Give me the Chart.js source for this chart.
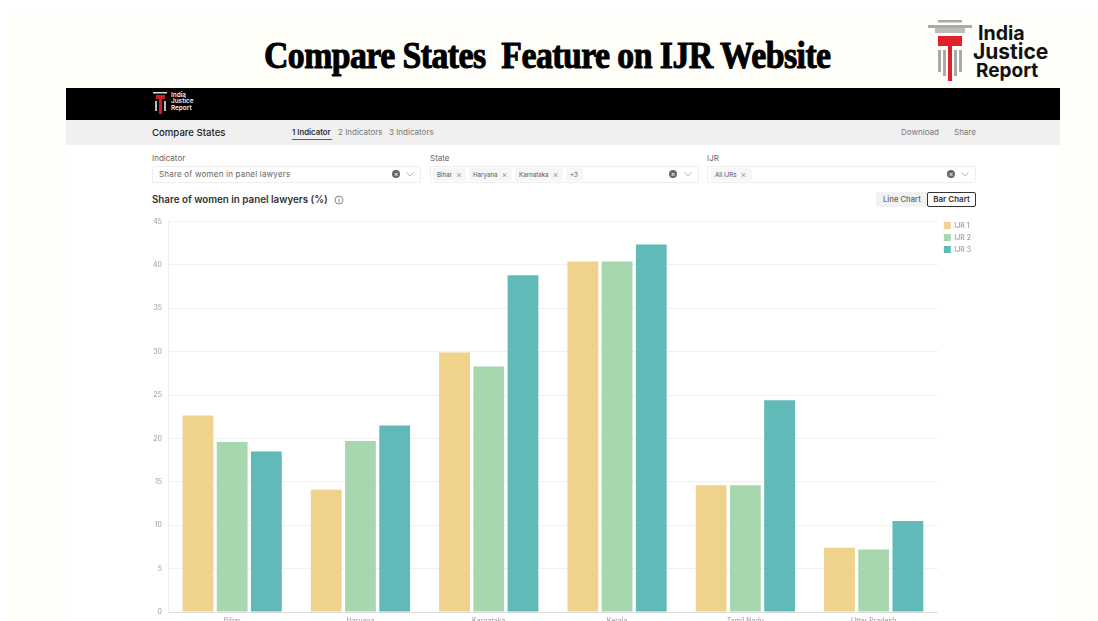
<!DOCTYPE html>
<html><head><meta charset="utf-8">
<script src="https://cdn.jsdelivr.net/npm/chart.js@4"></script>
<style>
html,body{margin:0;padding:0;width:1098px;height:621px;overflow:hidden;background:#fff;font-family:Inter,sans-serif}
.a{position:absolute;white-space:nowrap}
#cream{left:10px;top:12px;width:1088px;height:609px;background:#fffef8}
#title{left:264px;top:31px;font:700 37px "Liberation Serif",serif;color:#000;-webkit-text-stroke:1px #000;transform-origin:0 0;transform:scaleX(.913);letter-spacing:-.6px;line-height:50px}
#panel{left:66px;top:88px;width:994px;height:533px;background:#fff}
#black{left:66px;top:88px;width:994px;height:32px;background:#000}
#bar{left:66px;top:120px;width:994px;height:25px;background:#f0f0f0}
.lab{font-size:8px;color:#666;line-height:10px}
.box{height:15px;border:1px solid #eee;background:#fff;border-radius:2px;box-sizing:content-box}
.chip{height:13px;top:167.5px;background:#f6f6f6;border-radius:2px;font-size:6.2px;line-height:13px;color:#555;padding-left:4px;box-sizing:border-box}
.chip i{font-style:normal;color:#888;font-size:9px;margin-left:4px;vertical-align:-1px;font-weight:300}
.clr{width:8px;height:8px;border-radius:50%;background:#666;color:#fff;font-size:7px;line-height:8px;text-align:center;top:170px}
svg.chev{top:172px;width:8px;height:4.5px}
canvas{position:absolute;left:140px;top:210px}
#wrap{filter:blur(.35px)}
</style></head><body>
<div class="a" id="cream"></div>
<div class="a" id="title">Compare States&nbsp; Feature on IJR Website</div>
<svg class="a" style="left:925px;top:16px" width="50" height="68" viewBox="925 16 50 68">
<rect x="938" y="20" width="24" height="2.5" fill="#aaa"/>
<rect x="928" y="25" width="44" height="3" fill="#aaa"/>
<rect x="935" y="28" width="30" height="5" fill="#bbb"/>
<rect x="938" y="36" width="24" height="10" fill="#e2202c"/>
<rect x="948" y="36" width="4" height="45" fill="#e2202c"/>
<rect x="938" y="50" width="3" height="22" fill="#aaa"/><rect x="943" y="50" width="3" height="26" fill="#aaa"/>
<rect x="954" y="50" width="3" height="26" fill="#aaa"/><rect x="959" y="50" width="3" height="22" fill="#aaa"/>
</svg>
<div class="a" style="left:978px;top:24px;font:700 19.6px/19px Inter;color:#111">India</div>
<div class="a" style="left:973px;top:42px;font:700 21px/19px Inter;color:#111">Justice</div>
<div class="a" style="left:976px;top:61px;font:700 19px/19px Inter;color:#111">Report</div>
<div id="wrap">
<div class="a" id="panel"></div><div class="a" id="black"></div><div class="a" id="bar"></div>
<svg class="a" style="left:150px;top:90px" width="20" height="26" viewBox="0 0 20 26">
<rect x="3" y="2" width="14" height="1.5" fill="#ddd"/><rect x="6" y="5" width="9" height="4" fill="#d01c2a"/><rect x="9" y="5" width="3" height="19" fill="#d01c2a"/>
<rect x="5" y="11" width="2" height="10" fill="#bbb"/><rect x="14" y="11" width="2" height="10" fill="#bbb"/>
</svg>
<div class="a" style="left:171px;top:92px;font:600 6.4px/6.4px Inter;color:#eee">India<br>Justice<br>Report</div>
<div class="a" style="left:152px;top:125px;font:500 9.6px/15px Inter;color:#222">Compare States</div>
<div class="a" style="left:292px;top:127px;font:600 7.8px/11px Inter;color:#333">1 Indicator</div>
<div class="a" style="left:292px;top:138.5px;width:40px;height:1.5px;background:#e0202c"></div>
<div class="a" style="left:338px;top:127px;font:400 8px/11px Inter;color:#777">2 Indicators</div>
<div class="a" style="left:389px;top:127px;font:400 8px/11px Inter;color:#777">3 Indicators</div>
<div class="a" style="left:901px;top:127px;font:400 8px/11px Inter;color:#777">Download</div>
<div class="a" style="left:954px;top:127px;font:400 8px/11px Inter;color:#777">Share</div>
<div class="a lab" style="left:152px;top:153px">Indicator</div>
<div class="a lab" style="left:430px;top:153px">State</div>
<div class="a lab" style="left:707px;top:153px">IJR</div>
<div class="a box" style="left:152px;top:166px;width:267px"></div>
<div class="a box" style="left:430px;top:166px;width:267px"></div>
<div class="a box" style="left:707px;top:166px;width:267px"></div>
<div class="a" style="left:159px;top:168px;font:400 8px/12px Inter;color:#666;letter-spacing:.2px">Share of women in panel lawyers</div>
<div class="a chip" style="left:433px;width:33px">Bihar<i>×</i></div>
<div class="a chip" style="left:469px;width:43px">Haryana<i>×</i></div>
<div class="a chip" style="left:515px;width:48px">Karnataka<i>×</i></div>
<div class="a chip" style="left:566px;width:17px">+3</div>
<div class="a chip" style="left:711px;width:41px">All IJRs<i>×</i></div>
<div class="a clr" style="left:392px">×</div><div class="a clr" style="left:669px">×</div><div class="a clr" style="left:947px">×</div>
<svg class="a chev" style="left:406px" viewBox="0 0 9 5"><path d="M.5.5 4.5 4.5 8.5.5" fill="none" stroke="#999" stroke-width=".8"/></svg>
<svg class="a chev" style="left:684px" viewBox="0 0 9 5"><path d="M.5.5 4.5 4.5 8.5.5" fill="none" stroke="#999" stroke-width=".8"/></svg>
<svg class="a chev" style="left:961px" viewBox="0 0 9 5"><path d="M.5.5 4.5 4.5 8.5.5" fill="none" stroke="#999" stroke-width=".8"/></svg>
<div class="a" style="left:152px;top:192px;font:600 9.8px/15px Inter;color:#333">Share of women in panel lawyers (%)</div>
<svg class="a" style="left:334px;top:194.5px" width="10" height="10" viewBox="0 0 10 10"><circle cx="5" cy="5" r="4" fill="none" stroke="#555" stroke-width=".7"/><path d="M5 4.2V7.4M5 2.6V3.4" stroke="#555" stroke-width=".7"/></svg>
<div class="a" style="left:876px;top:192px;width:100px;height:15px;background:#f2f2f2;border-radius:2px"></div>
<div class="a" style="left:883px;top:194px;font:500 7.7px/11px Inter;color:#666">Line Chart</div>
<div class="a" style="left:927px;top:192px;width:47px;height:13px;border:1px solid #333;border-radius:2px;background:#fff;font:600 8px/13px Inter;color:#333;text-align:center">Bar Chart</div>
<canvas id="c" width="840" height="422"></canvas>
</div>
<script>
const categories = ["Bihar","Haryana","Karnataka","Kerala","Tamil Nadu","Uttar Pradesh"];
const seriesNames = ["IJR 1","IJR 2","IJR 3"];
const ijr1 = [22.65,14.1,29.9,40.4,14.6,7.4];
const ijr2 = [19.6,19.7,28.3,40.4,14.6,7.2];
const ijr3 = [18.5,21.5,38.8,42.35,24.4,10.5];
const colors = ["#efd28c","#a6d7ae","#60bab8"];
const yTicks = [0,5,10,15,20,25,30,35,40,45];
const nudgeLegend = {id:"nudgeLegend",afterLayout(c){c.legend.top-=4.5;c.legend.left+=1;}};
new Chart(document.getElementById("c"),{
 type:"bar",
 plugins:[nudgeLegend],
 data:{labels:categories,datasets:[ijr1,ijr2,ijr3].map((d,i)=>({label:seriesNames[i],data:d,backgroundColor:colors[i],borderWidth:0}))},
 options:{
  responsive:false,animation:false,
  layout:{padding:{top:11.5,right:0,bottom:0,left:0}},
  plugins:{tooltip:{enabled:false},title:{display:false},
   legend:{position:"right",align:"start",labels:{boxWidth:7,boxHeight:7,padding:5,color:"#888",font:{family:"Inter",size:7}}}},
  scales:{
   x:{afterFit:s=>{s.height=20},grid:{display:false,drawTicks:false},border:{color:"#ddd",width:1},
      ticks:{color:"#999",font:{family:"Inter",size:7},padding:5,maxRotation:0}},
   y:{min:0,max:45,afterFit:s=>{s.width=28},afterBuildTicks:s=>{s.ticks=yTicks.map(v=>({value:v}))},
      grid:{color:"#f0f0f0",drawTicks:false},border:{color:"#eee",width:1},
      ticks:{color:"#999",font:{family:"Inter",size:7},padding:6}}
  }
 }
});
</script>
</body></html>
